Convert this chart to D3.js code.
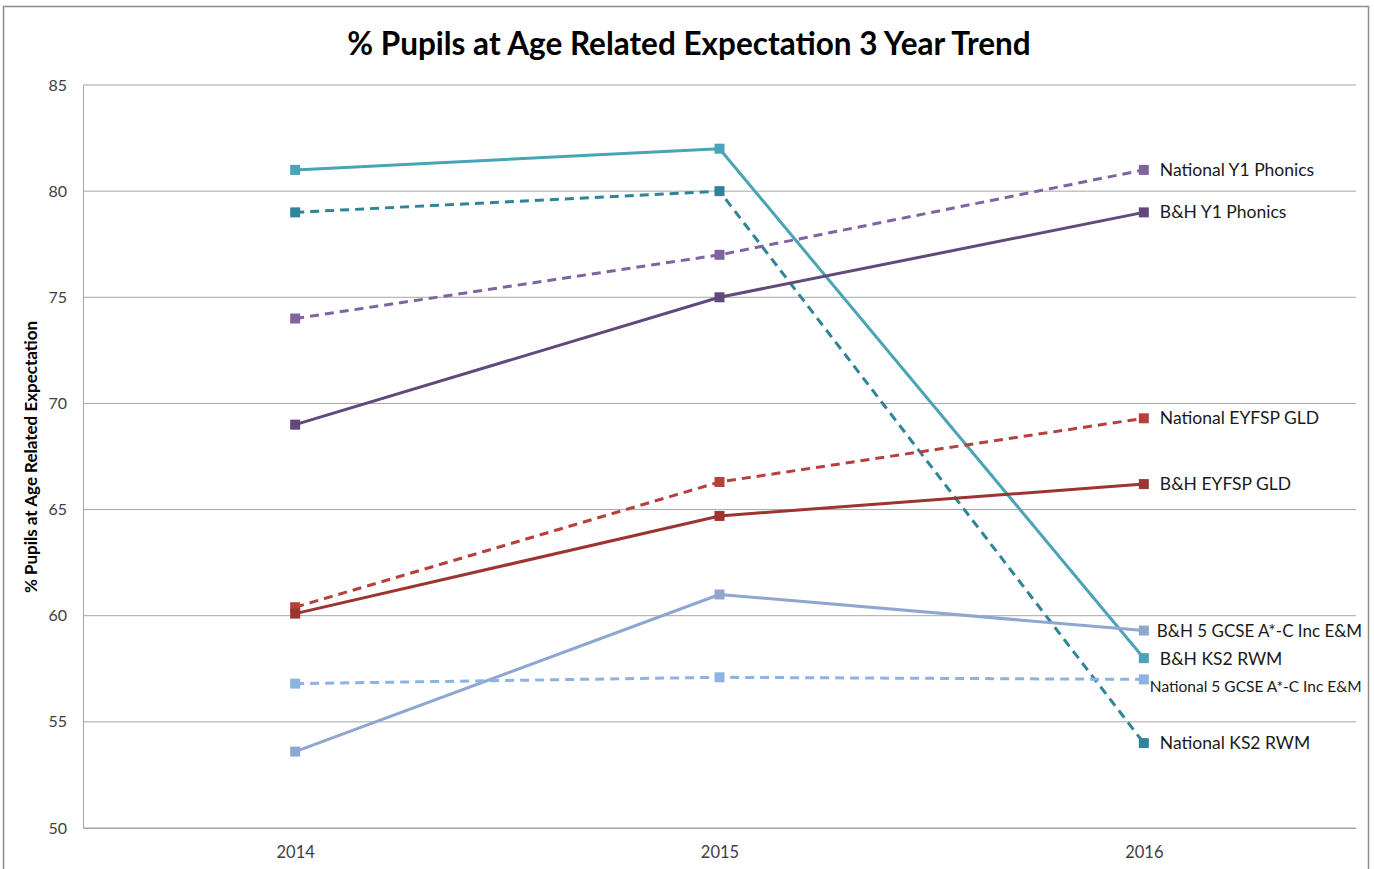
<!DOCTYPE html>
<html><head><meta charset="utf-8">
<script src="https://cdn.jsdelivr.net/npm/d3@7"></script>
<style>body{margin:0;background:#fff;}svg{display:block;font-family:Lato,"Open Sans",sans-serif;}</style>
</head><body><svg id="c" width="1374" height="869"></svg>
<script>
const years = ["2014","2015","2016"];
const yTicks = [50,55,60,65,70,75,80,85];
const seriesNames = ["B&H KS2 RWM","National KS2 RWM","National Y1 Phonics","B&H Y1 Phonics","National EYFSP GLD","B&H EYFSP GLD","B&H 5 GCSE A*-C Inc E&M","National 5 GCSE A*-C Inc E&M"];
const bhKS2 = [81,82,58];
const natKS2 = [79,80,54];
const natY1 = [74,77,81];
const bhY1 = [69,75,79];
const natEYFSP = [60.4,66.3,69.3];
const bhEYFSP = [60.1,64.7,66.2];
const bhGCSE = [53.6,61.0,59.3];
const natGCSE = [56.8,57.1,57.0];

const seriesValues = [bhKS2,natKS2,natY1,bhY1,natEYFSP,bhEYFSP,bhGCSE,natGCSE];
const colors = ["#4aa3b7","#2f8597","#8064a2","#604a7b","#b5403c","#9c3430","#8fa6d0","#8db3e2"];
const dashed = [false,true,true,false,true,false,false,true];
const labelDx = [16,16,16,16,16,16,13,6];
const labelDy = [7,6,6,6,6,6,6,13];
const labelSize = [17.5,17.5,17.5,17.5,17.5,17.5,17,15.5];

const svg = d3.select("#c");
svg.append("rect").attr("x",3.5).attr("y",6.5).attr("width",1365).attr("height",880)
  .attr("fill","none").attr("stroke","#8c8c8c").attr("stroke-width",1.5);

const L=83,R=1356,T=85,B=828;
const x = d3.scalePoint().domain(years).range([L,R]).padding(0.5);
const y = d3.scaleLinear().domain([50,85]).range([B,T]);

svg.append("g").selectAll("line").data(yTicks).join("line")
  .attr("x1",L).attr("x2",R).attr("y1",d=>y(d)).attr("y2",d=>y(d))
  .attr("stroke","#a6a6a6").attr("stroke-width",1);

const ya = svg.append("g").attr("transform",`translate(${L},0)`)
  .call(d3.axisLeft(y).tickValues(yTicks).tickSize(0).tickPadding(16));
ya.select(".domain").attr("stroke","#a6a6a6");
ya.selectAll("text").attr("font-size",16).attr("fill","#404040").attr("font-family","Lato,sans-serif");

const xa = svg.append("g").attr("transform",`translate(0,${B})`)
  .call(d3.axisBottom(x).tickSize(0).tickPadding(18));
xa.select(".domain").attr("stroke","#a6a6a6");
xa.selectAll("text").attr("font-size",16.5).attr("fill","#404040").attr("font-family","Lato,sans-serif");

svg.append("text").attr("x",689).attr("y",55).attr("text-anchor","middle")
  .attr("font-size",31.5).attr("font-weight","bold").attr("fill","#000")
  .text("% Pupils at Age Related Expectation 3 Year Trend");

svg.append("text").attr("transform","translate(37,457) rotate(-90)").attr("text-anchor","middle")
  .attr("font-size",17).attr("font-weight","bold").attr("fill","#000")
  .text("% Pupils at Age Related Expectation");

const line = d3.line().x((d,i)=>x(years[i])).y(d=>y(d));
seriesValues.forEach((vals,k)=>{
  const g = svg.append("g");
  g.append("path").attr("d",line(vals)).attr("fill","none").attr("stroke",colors[k])
    .attr("stroke-width",3).attr("stroke-dasharray",dashed[k]?"9,6":null).attr("stroke-linejoin","round");
  g.selectAll("rect").data(vals).join("rect")
    .attr("x",(d,i)=>x(years[i])-5).attr("y",d=>y(d)-5).attr("width",10).attr("height",10)
    .attr("fill",colors[k]);
  g.append("text").attr("x",x(years[2])+labelDx[k]).attr("y",y(vals[2])+labelDy[k])
    .attr("font-size",labelSize[k]).attr("fill","#1a1a1a").text(seriesNames[k]);
});
</script></body></html>
